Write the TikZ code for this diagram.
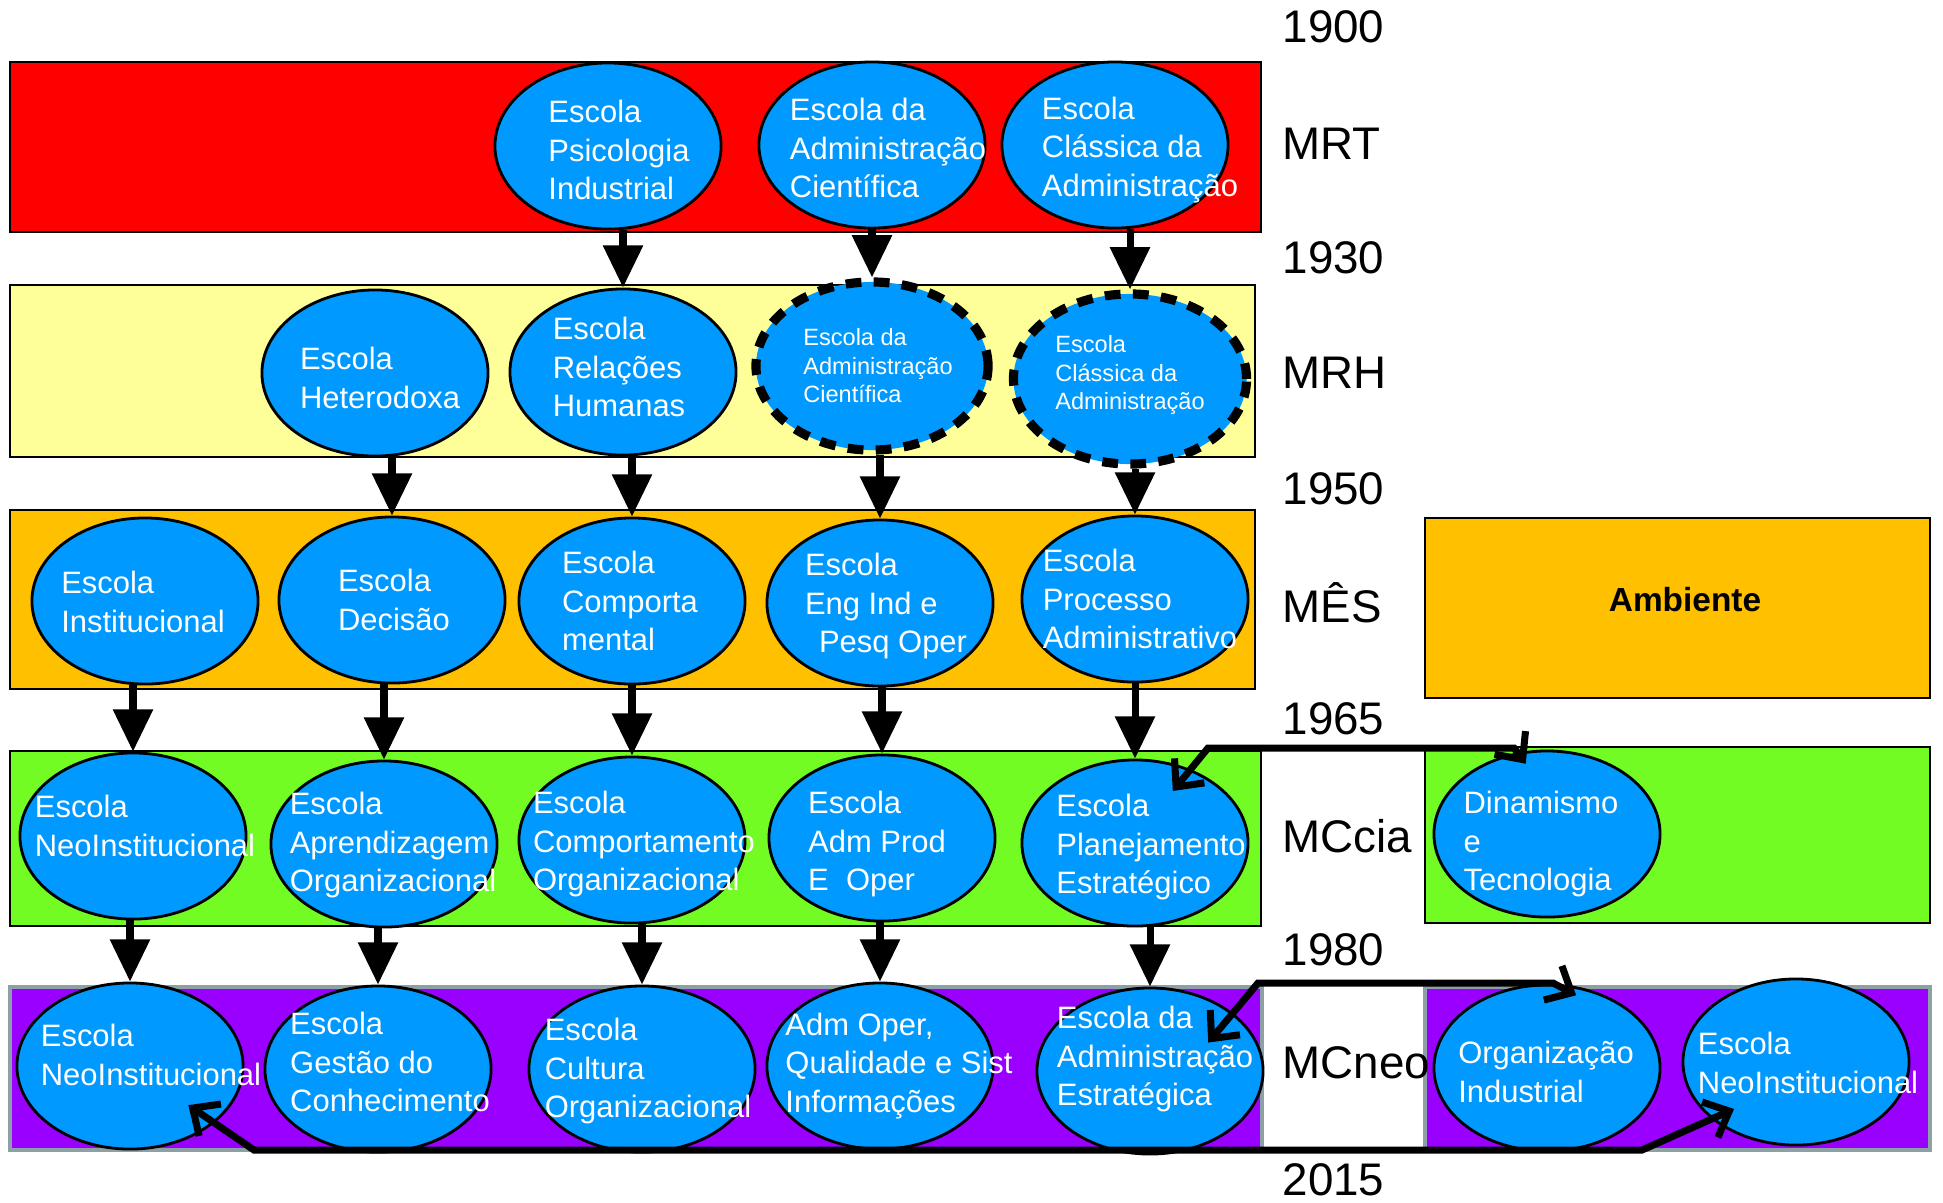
\documentclass[tikz,border=0pt]{standalone}
\usepackage{fontspec}
\setmainfont{Liberation Sans}
\usetikzlibrary{shapes.geometric,arrows.meta}

\definecolor{mrt}{RGB}{255,0,0}
\definecolor{mrh}{RGB}{255,255,153}
\definecolor{mes}{RGB}{255,192,0}
\definecolor{mccia}{RGB}{115,252,35}
\definecolor{mcneo}{RGB}{153,0,255}
\definecolor{schule}{RGB}{0,153,255}
\definecolor{rand}{RGB}{140,160,165}

\tikzset{
	schulkreis/.style={ellipse, draw=black, line width=0.8pt, fill=schule, minimum width=2.26cm, minimum height=1.66cm, inner sep=0pt},
	schultext/.style={text=white, align=left, font=\fontsize{8.8}{11}\selectfont, inner sep=0pt},
	pfeil/.style={line width=2pt, -{Triangle[length=12pt,width=11pt]}},
	verbind/.style={line width=2pt, {Straight Barb[length=6pt,width=11pt]}-{Straight Barb[length=6pt,width=11pt]}},
	jahr/.style={anchor=west, inner sep=0pt, font=\fontsize{13}{15}\selectfont}
}

\begin{document}
\begin{tikzpicture}[x=0.01cm,y=-0.01cm]
\useasboundingbox (0,0) rectangle (1943,1202);

%Baender
\foreach \xb/\ya/\yb/\c in
{
1261/62/232/mrt,
1255/285/457/mrh,
1255/510/689/mes,
1261/751/926/mccia}
{
	\draw[fill=\c, line width=0.8pt] (10,\ya) rectangle (\xb,\yb);
}
\draw[fill=mcneo, draw=rand, line width=1.2pt] (10,987) rectangle (1262,1150);
\draw[fill=mcneo, draw=rand, line width=1.2pt] (1425,987) rectangle (1930,1150);

%Ambiente
\draw[fill=mes, line width=0.8pt] (1425,518) rectangle (1930,698);
\draw[fill=mccia, line width=0.8pt] (1425,747) rectangle (1930,923);
\node[font=\fontsize{9.5}{11}\selectfont\bfseries] (amb) at (1685,600) {Ambiente};

%Jahreszahlen
\foreach \y/\t [count=\i] in {27/1900, 144/MRT, 258/1930, 373/MRH, 489/1950, 603/MÊS, 719/1965, 836/MCcia, 950/1980, 1063/MCneo, 1180/2015}
{
	\node[jahr] (zeit\i) at (1282,\y) {\t};
}

%Schulen
\foreach \x/\y/\n/\dx/\dy/\t in
{
608/146/ps/11/4/{Escola\\Psicologia\\Industrial},
872/145/ac1/16/3/{Escola da\\Administração\\Científica},
1115/145/cl1/25/5/{Escola\\Clássica da\\Administração},
375/373/het/5/5/{Escola\\Heterodoxa},
623/372/rh/-4/-5/{Escola\\Relações\\Humanas},
145/601/inst/-2/1/{Escola\\Institucional},
392/600/dec/2/0/{Escola\\Decisão},
632/601/comp/-2/0/{Escola\\Comporta\\mental},
880/603/eng/6/3/{Escola\\Eng Ind e\\\hspace*{4pt}Pesq Oper},
1135/599/proc/5/0/{Escola\\Processo\\Administrativo},
133/836/neo1/12/-10/{Escola\\NeoInstitucional},
384/844/apr/9/1/{Escola\\Aprendizagem\\Organizacional},
632/840/co/12/4/{Escola\\Comportamento\\Organizacional},
882/838/adm/-5/6/{Escola\\Adm Prod\\E\ \ Oper},
1135/843/plan/16/4/{Escola\\Planejamento\\Estratégico},
1547/834/din/-6/10/{Dinamismo\\e\\Tecnologia},
130/1066/neo2/21/-11/{Escola\\NeoInstitucional},
378/1069/ges/12/-7/{Escola\\Gestão do\\Conhecimento},
642/1069/cul/6/2/{Escola\\Cultura\\Organizacional},
880/1066/oper/19/0/{Adm Oper,\\Qualidade e Sist\\Informações},
1150/1071/est/5/-12/{Escola da\\Administração\\Estratégica},
1547/1068/oi/-1/4/{Organização\\Industrial},
1796/1062/neo3/12/1/{Escola\\NeoInstitucional}}
{
	\node[schulkreis] (\n) at (\x,\y) {};
	\node[schultext] (\n-t) at ([shift={(\dx,\dy)}]\n) {\t};
}

%Gestrichelte Schulen
\node[schulkreis, line width=2.6pt, dash pattern=on 4.5pt off 3.5pt, minimum width=2.32cm, minimum height=1.68cm] (ac2) at (872,366) {};
\node[schultext, font=\fontsize{6.7}{8.1}\selectfont] (ac2-t) at ([shift={(6,0)}]ac2) {Escola da\\Administração\\Científica};
\node[schulkreis, line width=2.6pt, dash pattern=on 4.5pt off 3.5pt, minimum width=2.33cm, minimum height=1.70cm] (cl2) at (1130,379) {};
\node[schultext, font=\fontsize{6.7}{8.1}\selectfont] (cl2-t) at ([shift={(0,-4)}]cl2) {Escola\\Clássica da\\Administração};

%Pfeile
\foreach \a/\b in {ps/rh, ac1/ac2, cl1/cl2, het/dec, rh/comp, ac2/eng, cl2/proc, inst/neo1, dec/apr, comp/co, eng/adm, proc/plan, neo1/neo2, apr/ges, co/cul, adm/oper, plan/est}
{
	\draw[pfeil] (\a.south -| \b) -- (\b.north);
}

%Verbindungen
\coordinate (k1) at (1208,748);
\coordinate (k2) at (1514,748);
\coordinate (k3) at (1258,983);
\coordinate (k4) at (1553,983);
\coordinate (k5) at (254,1150);
\coordinate (k6) at (1642,1150);
\draw[verbind, shorten <=-8pt, shorten >=-4pt] (plan.53) -- (k1) -- (k2) -- (din.110);
\draw[verbind, shorten <=-11pt, shorten >=-7pt] (est.35) -- (k3) -- (k4) -- (oi.85);
\draw[verbind, shorten <=-9pt, shorten >=-7pt] (neo2.-34) -- (k5) -- (k6) -- (neo3.214);

\end{tikzpicture}
\end{document}
